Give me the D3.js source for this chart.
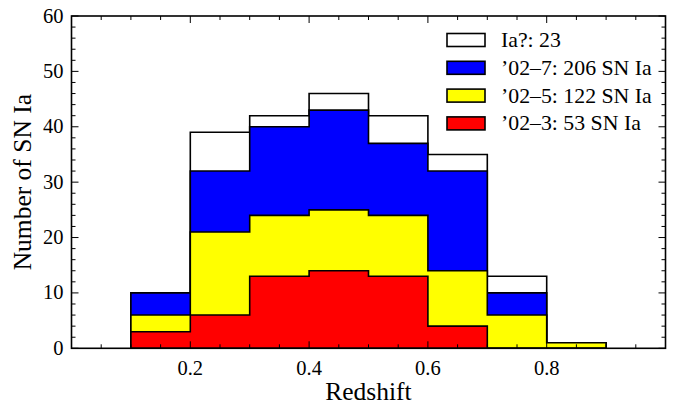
<!DOCTYPE html>
<html>
<head>
<meta charset="utf-8">
<script src="https://cdn.jsdelivr.net/npm/d3@7"></script>
<style>
  html, body { margin: 0; padding: 0; background: #fff; }
  svg { display: block; }
  text { font-family: "Liberation Serif", "DejaVu Serif", serif; fill: #000; }
</style>
</head>
<body>
<svg id="chart" width="678" height="407"></svg>
<script>
// Redshift bin edges (width 0.1)
const binEdges = [0.1, 0.2, 0.3, 0.4, 0.5, 0.6, 0.7, 0.8, 0.9];

// Counts per bin (each histogram includes the ones drawn in front of it)
const allCandidates = [10, 39, 42, 46, 42, 35, 13, 1];   // incl. Ia? candidates
const season02_7   = [10, 32, 40, 43, 37, 32, 10, 1];
const season02_5   = [6, 21, 24, 25, 24, 14, 6, 1];
const season02_3   = [3, 6, 13, 14, 13, 4, 0, 0];

const legendLabels = ["Ia?: 23", "\u201902\u20137: 206 SN Ia", "\u201902\u20135: 122 SN Ia", "\u201902\u20133: 53 SN Ia"];
const seriesColors = ["#ffffff", "#0000ff", "#ffff00", "#ff0000"];
const seriesList = [allCandidates, season02_7, season02_5, season02_3];

const xMajorTicks = [0.2, 0.4, 0.6, 0.8];
const yMajorTicks = [0, 10, 20, 30, 40, 50, 60];

const margin = { left: 71.5, right: 678 - 665.5, top: 16, bottom: 407 - 348.3 };
const W = 678, H = 407;
const svg = d3.select("#chart");

const x = d3.scaleLinear().domain([0, 1]).range([margin.left, W - margin.right]);
const y = d3.scaleLinear().domain([0, 60]).range([H - margin.bottom, margin.top]);

// Step outline of a histogram, closed along the baseline
function histPath(counts) {
  const pts = [[binEdges[0], 0]];
  counts.forEach((c, i) => {
    pts.push([binEdges[i], c]);
    pts.push([binEdges[i + 1], c]);
  });
  pts.push([binEdges[counts.length], 0]);
  return d3.line().x(d => x(d[0])).y(d => y(d[1]))(pts) + "Z";
}

const histG = svg.append("g");
seriesList.forEach((counts, i) => {
  histG.append("path")
    .attr("d", histPath(counts))
    .attr("fill", seriesColors[i])
    .attr("stroke", "#000")
    .attr("stroke-width", 1.6)
    .attr("stroke-linejoin", "miter");
});

// Axes with inward ticks on all four sides
const x0 = x.range()[0], x1 = x.range()[1], y0 = y.range()[0], y1 = y.range()[1];
const xMinor = d3.range(0.05, 1.0, 0.05).map(v => +v.toFixed(2));
const yMinor = d3.range(0, 61, 2);
const majorLen = 7, minorLen = 4;
const tickG = svg.append("g").attr("stroke", "#000").attr("stroke-width", 1);

xMinor.forEach(v => {
  const isMajor = xMajorTicks.some(m => Math.abs(m - v) < 1e-6);
  const len = isMajor ? majorLen : minorLen;
  tickG.append("line").attr("x1", x(v)).attr("x2", x(v)).attr("y1", y0).attr("y2", y0 - len);
  tickG.append("line").attr("x1", x(v)).attr("x2", x(v)).attr("y1", y1).attr("y2", y1 + len);
});
yMinor.forEach(v => {
  const isMajor = v % 10 === 0;
  const len = isMajor ? majorLen : minorLen;
  tickG.append("line").attr("y1", y(v)).attr("y2", y(v)).attr("x1", x0).attr("x2", x0 + len);
  tickG.append("line").attr("y1", y(v)).attr("y2", y(v)).attr("x1", x1).attr("x2", x1 - len);
});

svg.append("rect")
  .attr("x", x0).attr("y", y1)
  .attr("width", x1 - x0).attr("height", y0 - y1)
  .attr("fill", "none").attr("stroke", "#000").attr("stroke-width", 1.6);

// Tick labels
svg.append("g").selectAll("text").data(xMajorTicks).join("text")
  .attr("x", d => x(d)).attr("y", y0 + 27)
  .attr("text-anchor", "middle").attr("font-size", 20.5)
  .text(d => d.toFixed(1));
svg.append("g").selectAll("text").data(yMajorTicks).join("text")
  .attr("x", x0 - 8).attr("y", d => y(d) + 6.5)
  .attr("text-anchor", "end").attr("font-size", 20.5)
  .text(d => d);

// Axis titles
svg.append("text")
  .attr("x", (x0 + x1) / 2).attr("y", 400)
  .attr("text-anchor", "middle").attr("font-size", 25.5)
  .text("Redshift");
svg.append("text")
  .attr("transform", `translate(31,${(y0 + y1) / 2}) rotate(-90)`)
  .attr("text-anchor", "middle").attr("font-size", 25.5)
  .text("Number of SN Ia");

// Legend
const legend = svg.append("g");
legendLabels.forEach((label, i) => {
  const cy = 40 + i * 27.8;
  legend.append("rect")
    .attr("x", 447).attr("y", cy - 6.5)
    .attr("width", 38).attr("height", 13)
    .attr("fill", seriesColors[i]).attr("stroke", "#000").attr("stroke-width", 1.6);
  legend.append("text")
    .attr("x", 501).attr("y", cy + 7)
    .attr("font-size", 21.8)
    .text(label);
});
</script>
</body>
</html>
